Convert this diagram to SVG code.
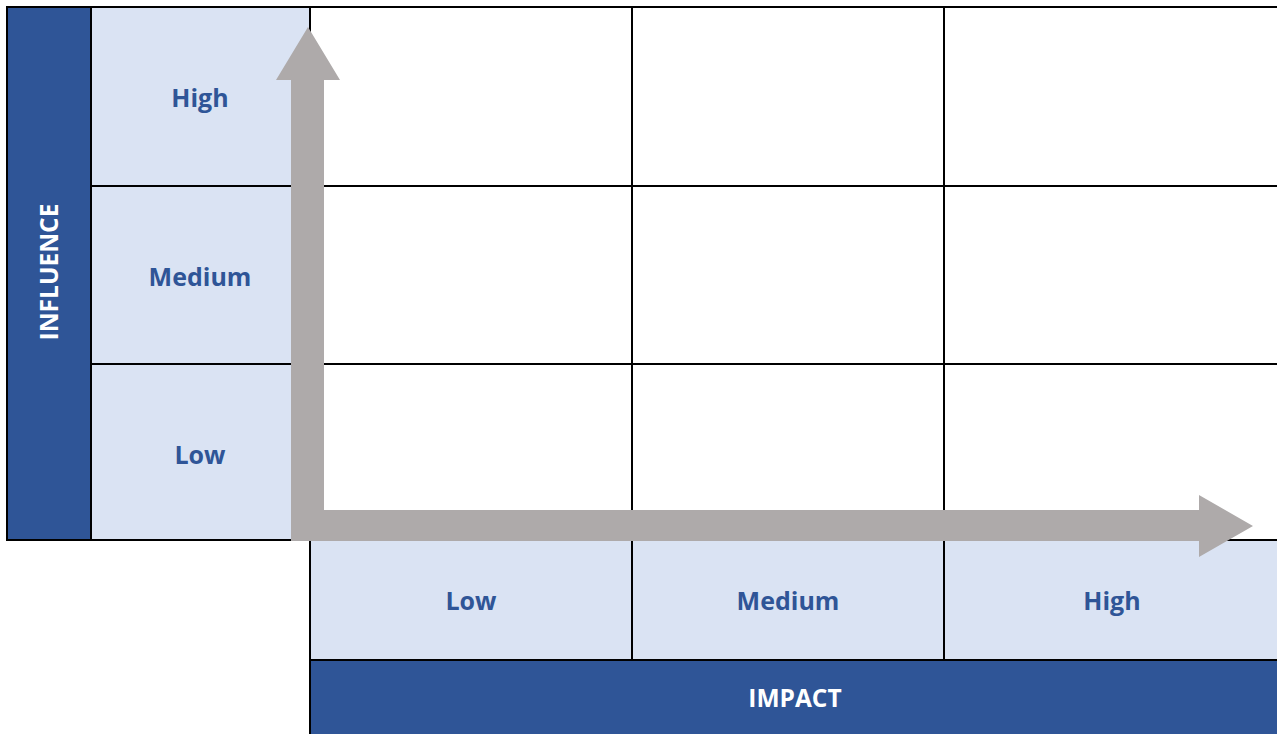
<svg xmlns="http://www.w3.org/2000/svg" width="1277" height="734" viewBox="0 0 1277 734">
<style>
.dark{fill:#2F5597;stroke:#000;stroke-width:2}
.light{fill:#DAE3F3;stroke:#000;stroke-width:2}
.cell{fill:#FFFFFF;stroke:#000;stroke-width:2}
.lbl{font-family:"Open Sans","Liberation Sans",sans-serif;font-weight:bold;font-size:25px;fill:#2F5597;text-anchor:middle}
.ttl{font-family:"Open Sans","Liberation Sans",sans-serif;font-weight:bold;font-size:24.5px;fill:#FFFFFF;text-anchor:middle}
.arrow{fill:#AEAAAA}
</style>
<rect width="1277" height="734" fill="#FFFFFF"/>
<g id="grid">
<rect class="cell" x="310" y="7" width="322" height="179"/>
<rect class="cell" x="632" y="7" width="312" height="179"/>
<rect class="cell" x="944" y="7" width="340" height="179"/>
<rect class="cell" x="310" y="186" width="322" height="178"/>
<rect class="cell" x="632" y="186" width="312" height="178"/>
<rect class="cell" x="944" y="186" width="340" height="178"/>
<rect class="cell" x="310" y="364" width="322" height="176"/>
<rect class="cell" x="632" y="364" width="312" height="176"/>
<rect class="cell" x="944" y="364" width="340" height="176"/>
</g>
<g id="influence">
<rect class="dark" x="7" y="7" width="84" height="533"/>
<text class="ttl" transform="translate(58,272) rotate(-90)">INFLUENCE</text>
</g>
<g id="inf-high">
<rect class="light" x="91" y="7" width="219" height="179"/>
<text class="lbl" x="200" y="107">High</text>
</g>
<g id="inf-medium">
<rect class="light" x="91" y="186" width="219" height="178"/>
<text class="lbl" x="200" y="286">Medium</text>
</g>
<g id="inf-low">
<rect class="light" x="91" y="364" width="219" height="176"/>
<text class="lbl" x="200" y="464">Low</text>
</g>
<g id="imp-low">
<rect class="light" x="310" y="540" width="322" height="120"/>
<text class="lbl" x="471" y="610">Low</text>
</g>
<g id="imp-medium">
<rect class="light" x="632" y="540" width="312" height="120"/>
<text class="lbl" x="788" y="610">Medium</text>
</g>
<g id="imp-high">
<rect class="light" x="944" y="540" width="340" height="120"/>
<text class="lbl" x="1112" y="610">High</text>
</g>
<g id="impact">
<rect class="dark" x="310" y="660" width="974" height="80"/>
<text class="ttl" x="795" y="707">IMPACT</text>
</g>
<g id="connectors">
<polygon class="arrow" points="291,541 291,80 276,80 308,27 340,80 324,80 324,510 1199,510 1199,495 1253,526 1199,557 1199,541"/>
</g>
</svg>
